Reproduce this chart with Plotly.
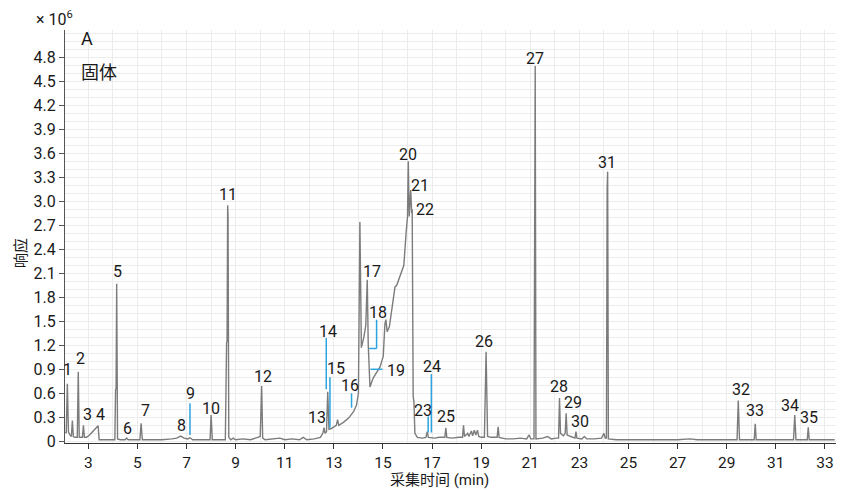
import plotly.graph_objects as go

# Chromatogram trace: retention time (min) and detector response (x10^6)
time_min = [
    2.07, 2.10, 2.145, 2.19, 2.25, 2.31, 2.35, 2.39, 2.45, 2.55, 2.59, 2.63, 2.70,
    2.76, 2.80, 2.84, 2.93, 3.05, 3.20, 3.40, 3.44, 3.60, 3.80, 4.00, 4.08, 4.11,
    4.13, 4.155, 4.19, 4.30, 4.50, 4.56, 4.62, 5.10, 5.15, 5.20, 5.50, 6.00, 6.40,
    6.60, 6.76, 6.90, 7.05, 7.14, 7.25, 7.60, 7.90, 7.96, 8.00, 8.05, 8.30, 8.50,
    8.58, 8.63, 8.65, 8.675, 8.69, 8.72, 8.80, 8.90, 9.00, 9.30, 9.60, 9.90, 10.00,
    10.06, 10.10, 10.20, 10.50, 10.80, 11.00, 11.30, 11.60, 11.75, 11.90, 12.20,
    12.45, 12.55, 12.60, 12.64, 12.70, 12.75, 12.80, 12.90, 13.00, 13.10, 13.15,
    13.20, 13.40, 13.60, 13.80, 13.92, 14.00, 14.06, 14.12, 14.22, 14.30, 14.36,
    14.40, 14.47, 14.60, 14.88, 15.01, 15.08, 15.12, 15.17, 15.26, 15.32, 15.42,
    15.49, 15.56, 15.69, 15.85, 15.94, 16.00, 16.03, 16.07, 16.13, 16.17, 16.19,
    16.23, 16.26, 16.30, 16.40, 16.60, 16.75, 16.80, 16.85, 17.10, 17.30, 17.52,
    17.56, 17.60, 17.80, 18.10, 18.24, 18.28, 18.32, 18.45, 18.50, 18.60, 18.65,
    18.72, 18.78, 18.85, 18.90, 19.00, 19.13, 19.20, 19.26, 19.40, 19.65, 19.69,
    19.73, 20.00, 20.30, 20.60, 20.85, 20.95, 21.02, 21.15, 21.18, 21.20, 21.23,
    21.50, 21.70, 21.85, 22.05, 22.15, 22.19, 22.23, 22.35, 22.42, 22.46, 22.50,
    22.65, 22.82, 22.86, 22.90, 23.10, 23.20, 23.30, 23.60, 23.90, 24.00, 24.05,
    24.10, 24.13, 24.15, 24.18, 24.50, 25.00, 25.50, 26.00, 26.50, 27.00, 27.50,
    27.80, 28.50, 29.20, 29.42, 29.47, 29.52, 29.80, 30.12, 30.16, 30.20, 30.60,
    31.20, 31.72, 31.77, 31.82, 32.28, 32.32, 32.36, 32.80, 33.40,
]
response = [
    0.12, 0.10, 0.72, 0.12, 0.08, 0.06, 0.26, 0.06, 0.05, 0.05, 0.87, 0.05, 0.05,
    0.05, 0.20, 0.05, 0.05, 0.08, 0.13, 0.195, 0.02, 0.02, 0.02, 0.02, 0.02, 0.65,
    0.66, 1.97, 0.03, 0.02, 0.02, 0.04, 0.02, 0.02, 0.225, 0.02, 0.02, 0.02, 0.03,
    0.04, 0.065, 0.04, 0.03, 0.045, 0.02, 0.02, 0.02, 0.02, 0.33, 0.02, 0.02, 0.02,
    0.02, 1.23, 1.25, 2.95, 2.81, 0.05, 0.02, 0.04, 0.02, 0.03, 0.02, 0.05, 0.06,
    0.69, 0.04, 0.02, 0.03, 0.04, 0.02, 0.03, 0.02, 0.05, 0.02, 0.03,
    0.05, 0.10, 0.17, 0.10, 0.12, 0.62, 0.15, 0.16, 0.18, 0.20, 0.27,
    0.20, 0.24, 0.29, 0.37, 0.45, 0.60, 2.74, 1.17, 1.30, 1.45, 2.02,
    1.21, 0.68, 0.79, 0.93, 1.06, 1.47, 1.52, 1.37, 1.43, 1.56, 1.72,
    1.93, 1.95, 2.06, 2.20, 2.60, 2.81, 3.50, 2.81, 3.14, 2.85, 2.90,
    0.56, 0.50, 0.10, 0.05, 0.04, 0.05, 0.12, 0.05, 0.04, 0.05, 0.05,
    0.17, 0.05, 0.04, 0.05, 0.05, 0.20, 0.06, 0.10, 0.06, 0.13, 0.07,
    0.14, 0.08, 0.14, 0.06, 0.05, 0.05, 1.12, 0.06, 0.05, 0.05, 0.18,
    0.05, 0.03, 0.03, 0.04, 0.03, 0.08, 0.03, 0.03, 4.40, 4.69, 0.03,
    0.04, 0.06, 0.03, 0.04, 0.04, 0.54, 0.10, 0.07, 0.10, 0.35, 0.08,
    0.06, 0.04, 0.12, 0.04, 0.03, 0.06, 0.03, 0.03, 0.04, 0.10, 0.04,
    0.04, 3.16, 3.37, 0.03, 0.02, 0.02, 0.02, 0.02, 0.02, 0.02, 0.03,
    0.02, 0.02, 0.02, 0.02, 0.51, 0.02, 0.02, 0.02, 0.22, 0.02, 0.02,
    0.02, 0.02, 0.33, 0.02, 0.02, 0.175, 0.02, 0.02, 0.02,
]

# Peak numbers and where their labels sit (time, response)
peak_ids = [str(i) for i in range(1, 36)]
label_t = [2.16, 2.70, 2.96, 3.50, 4.17, 4.60, 5.31, 6.80, 7.17, 8.00,
           8.70, 10.10, 12.31, 12.75, 13.09, 13.66, 14.56, 14.78, 15.53, 16.00,
           16.50, 16.71, 16.62, 17.01, 17.56, 19.12, 21.19, 22.15, 22.75, 23.02,
           24.13, 29.58, 30.15, 31.57, 32.36]
label_v = [0.90, 1.04, 0.33, 0.33, 2.12, 0.16, 0.39, 0.20, 0.60, 0.41,
           3.09, 0.81, 0.30, 1.37, 0.91, 0.70, 2.12, 1.61, 0.89, 3.59,
           3.20, 2.90, 0.39, 0.94, 0.31, 1.25, 4.79, 0.69, 0.48, 0.245,
           3.48, 0.65, 0.38, 0.45, 0.30]

# Leader lines for crowded peaks: (t0, v0, t1, v1)
leaders = [
    (7.14, 0.475, 7.14, 0.08),
    (12.69, 1.29, 12.69, 0.65),
    (12.84, 0.80, 12.84, 0.17),
    (13.72, 0.60, 13.72, 0.42),
    (14.74, 1.52, 14.74, 1.16),
    (14.74, 1.16, 14.44, 1.16),
    (14.49, 0.90, 14.98, 0.90),
    (16.84, 0.31, 16.84, 0.11),
    (16.97, 0.84, 16.97, 0.11),
]

y_ticks = [0, 0.3, 0.6, 0.9, 1.2, 1.5, 1.8, 2.1, 2.4, 2.7, 3.0, 3.3, 3.6, 3.9,
           4.2, 4.5, 4.8]
y_ticktext = ["0", "0.3", "0.6", "0.9", "1.2", "1.5", "1.8", "2.1", "2.4", "2.7",
              "3.0", "3.3", "3.6", "3.9", "4.2", "4.5", "4.8"]
x_ticks = list(range(3, 34, 2))

FONT = "Roboto, 'Noto Sans CJK SC', sans-serif"
GRID = "#ececec"
LEADER = "#2aa3de"

fig = go.Figure()
fig.add_trace(go.Scatter(
    x=time_min, y=response, mode="lines",
    line=dict(color="#7c7c7c", width=1.4),
    hoverinfo="skip", showlegend=False,
))

for pid, t, v in zip(peak_ids, label_t, label_v):
    fig.add_annotation(x=t, y=v, text=pid, showarrow=False,
                       font=dict(size=16, color="#1a1a1a", family=FONT),
                       xanchor="center", yanchor="middle")

for t0, v0, t1, v1 in leaders:
    fig.add_shape(type="line", x0=t0, y0=v0, x1=t1, y1=v1,
                  line=dict(color=LEADER, width=1.5))

fig.add_annotation(xref="paper", yref="paper", x=0.018, y=0.979, text="A",
                   showarrow=False, xanchor="left", yanchor="middle",
                   font=dict(size=18, color="#1a1a1a", family=FONT))
fig.add_annotation(xref="paper", yref="paper", x=0.018, y=0.897, text="固体",
                   showarrow=False, xanchor="left", yanchor="middle",
                   font=dict(size=18, color="#1a1a1a", family=FONT))
fig.add_annotation(xref="paper", yref="paper", x=-0.013, y=1.027,
                   text="× 10<sup>6</sup>", showarrow=False,
                   xanchor="center", yanchor="middle",
                   font=dict(size=16, color="#1a1a1a", family=FONT))
fig.add_annotation(xref="paper", yref="paper", x=0.486, y=-0.1138,
                   text="采集时间 (min)", showarrow=False,
                   xanchor="center", yanchor="bottom", borderpad=0,
                   font=dict(size=15, color="#1a1a1a", family=FONT))
fig.add_annotation(xref="paper", yref="paper", x=-0.057, y=0.46,
                   text="响应", textangle=-90, showarrow=False,
                   xanchor="center", yanchor="middle",
                   font=dict(size=15, color="#1a1a1a", family=FONT))

fig.update_layout(
    width=841, height=490,
    margin=dict(l=65, r=5, t=30, b=47),
    paper_bgcolor="white", plot_bgcolor="white",
    font=dict(family=FONT, size=16, color="#1a1a1a"),
    xaxis=dict(
        range=[2.05, 33.45], tickmode="array", tickvals=x_ticks,
        ticks="outside", ticklen=5, tickcolor="#333",
        showline=True, linecolor="#333", linewidth=1.2,
        showgrid=True, gridcolor=GRID, gridwidth=1, zeroline=False,
        minor=dict(tickmode="linear", tick0=0, dtick=1, showgrid=True,
                   gridcolor=GRID, gridwidth=1, ticks=""),
        tickfont=dict(size=15.5, family=FONT),
    ),
    yaxis=dict(
        range=[-0.021, 5.14], tickmode="array", tickvals=y_ticks,
        ticktext=y_ticktext, ticks="outside", ticklen=5, tickcolor="#555",
        showline=True, linecolor="#555", linewidth=1.2,
        showgrid=True, gridcolor=GRID, gridwidth=1, zeroline=False,
        minor=dict(tickmode="linear", tick0=0, dtick=0.1, showgrid=True,
                   gridcolor=GRID, gridwidth=1, ticks=""),
        tickfont=dict(size=16, family=FONT),
    ),
)

fig.write_html("out.html")
